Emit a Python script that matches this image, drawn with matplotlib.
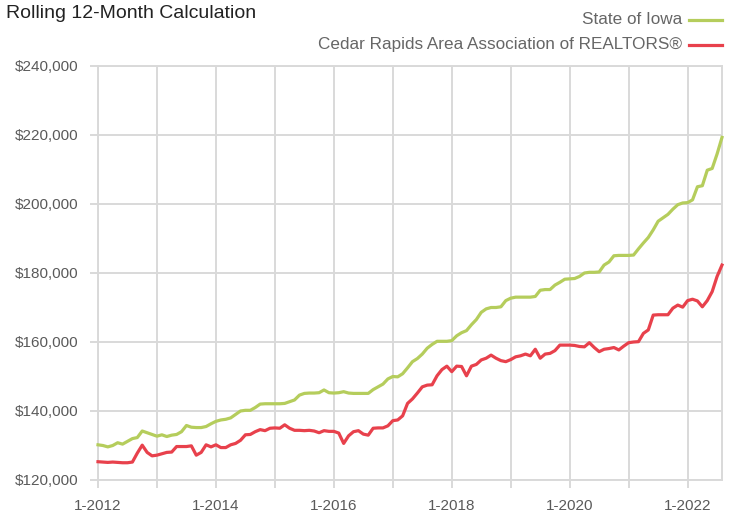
import matplotlib
matplotlib.use("Agg")
import matplotlib.pyplot as plt
from matplotlib.lines import Line2D
import numpy as np

title = "Rolling 12-Month Calculation"
series_names = ["State of Iowa", "Cedar Rapids Area Association of REALTORS®"]
start_year = 2012

# Monthly values, Jan 2012 .. Aug 2022 (in dollars, thousands)
iowa = [
    130.2, 130.0, 129.6, 130.0, 130.8, 130.4, 131.2, 132.0, 132.3, 134.2, 133.7, 133.2,
    132.7, 133.1, 132.6, 133.0, 133.2, 134.0, 135.8, 135.3, 135.2, 135.2, 135.5, 136.3,
    137.0, 137.4, 137.6, 138.0, 139.0, 140.0, 140.2, 140.2, 141.0, 142.0, 142.1, 142.1,
    142.1, 142.1, 142.2, 142.7, 143.2, 144.6, 145.1, 145.2, 145.2, 145.3, 146.1, 145.3,
    145.2, 145.3, 145.6, 145.2, 145.1, 145.1, 145.1, 145.1, 146.2, 147.0, 147.8, 149.3,
    150.0, 149.9, 150.8, 152.5, 154.3, 155.2, 156.5, 158.2, 159.3, 160.2, 160.2, 160.2,
    160.4, 161.8, 162.7, 163.3, 165.0, 166.5, 168.6, 169.6, 170.0, 170.0, 170.2, 172.0,
    172.7, 173.0, 173.0, 173.0, 173.0, 173.2, 175.0, 175.2, 175.2, 176.5, 177.3, 178.2,
    178.3, 178.4, 179.0, 180.0, 180.2, 180.2, 180.3, 182.3, 183.2, 185.0, 185.1, 185.1,
    185.1, 185.2, 187.0, 188.7, 190.3, 192.5, 195.0, 196.0, 197.0, 198.5, 199.8, 200.3,
    200.4, 201.2, 205.0, 205.3, 209.8, 210.3, 214.5, 219.3,
]
cedar = [
    125.3, 125.2, 125.1, 125.2, 125.1, 125.0, 125.0, 125.2, 127.8, 130.1, 128.0, 127.0,
    127.2, 127.6, 128.0, 128.1, 129.7, 129.7, 129.7, 129.9, 127.2, 128.0, 130.2, 129.6,
    130.2, 129.4, 129.4, 130.2, 130.6, 131.5, 133.1, 133.2, 134.0, 134.6, 134.3, 135.0,
    135.1, 135.0, 136.0, 135.0, 134.4, 134.4, 134.3, 134.4, 134.2, 133.7, 134.3, 134.1,
    134.1, 133.6, 130.6, 132.8, 134.0, 134.3, 133.3, 133.0, 135.0, 135.1, 135.1, 135.7,
    137.2, 137.4, 138.6, 142.2, 143.5, 145.2, 147.0, 147.5, 147.6, 150.2, 152.0, 153.0,
    151.4, 153.0, 152.9, 150.2, 153.0, 153.5, 154.8, 155.3, 156.2, 155.3, 154.6, 154.3,
    154.9, 155.7, 156.0, 156.5, 156.0, 157.9, 155.3, 156.5, 156.7, 157.5, 159.1, 159.1,
    159.1, 159.0, 158.7, 158.6, 159.8, 158.4, 157.2, 157.9, 158.1, 158.4, 157.7, 158.8,
    159.8, 160.0, 160.1, 162.5, 163.5, 167.8, 167.9, 167.9, 167.9, 169.8, 170.7, 170.1,
    172.0, 172.4, 171.9, 170.2, 172.0, 174.6, 179.0, 182.3,
]
y_ticks = [120000, 140000, 160000, 180000, 200000, 220000, 240000]
x_years = list(range(2012, 2023))
x_labels = ["1-2012", "", "1-2014", "", "1-2016", "", "1-2018", "", "1-2020", "", "1-2022"]

GREEN = "#b5cd5c"
RED = "#e8414c"
GRID = "#d9d9d9"
TXT = "#5a5a5a"
FONT = ["Liberation Sans Narrow", "Liberation Sans", "DejaVu Sans"]
plt.rcParams["font.family"] = FONT

fig = plt.figure(figsize=(7.32, 5.15), dpi=100)
W, H = 732, 515
ax = fig.add_axes([98 / W, (H - 480) / H, (722 - 98) / W, (480 - 66) / H])

n = len(iowa)
x = np.arange(n)
ax.plot(x, np.array(iowa) * 1000, color=GREEN, lw=2.3, clip_on=False, zorder=3,
        solid_joinstyle="round")
ax.plot(x, np.array(cedar) * 1000, color=RED, lw=2.3, clip_on=False, zorder=3,
        solid_joinstyle="round")

ax.set_xlim(0, n - 1)
ax.set_ylim(120000, 240000)
ax.set_yticks(y_ticks)
ax.set_yticklabels([f"${v:,.0f}" for v in y_ticks])
ax.set_xticks([(yr - start_year) * 12 for yr in x_years])
ax.set_xticklabels(x_labels)
ax.grid(True, color=GRID, lw=1.4)
ax.set_axisbelow(True)
for s in ax.spines.values():
    s.set_color(GRID)
    s.set_linewidth(1.4)
ax.tick_params(axis="both", color=GRID, width=1.4, length=6, labelcolor=TXT,
               labelsize=11)
ax.tick_params(axis="y", pad=8)
ax.tick_params(axis="x", pad=8)

fig.text(6 / W, 1 - 13 / H, title, fontsize=14, color="#222222", va="center", ha="left")

# legend
leg_y = [19, 44]
for name, col, yy in zip(series_names, [GREEN, RED], leg_y):
    fig.text(682 / W, 1 - yy / H, name, fontsize=12.3, color="#666666", ha="right",
             va="center")
    fig.add_artist(Line2D([689 / W, 722 / W], [1 - (yy + 1) / H] * 2, color=col, lw=2.3,
                          transform=fig.transFigure))

fig.savefig("out.png", dpi=100, facecolor="white")
